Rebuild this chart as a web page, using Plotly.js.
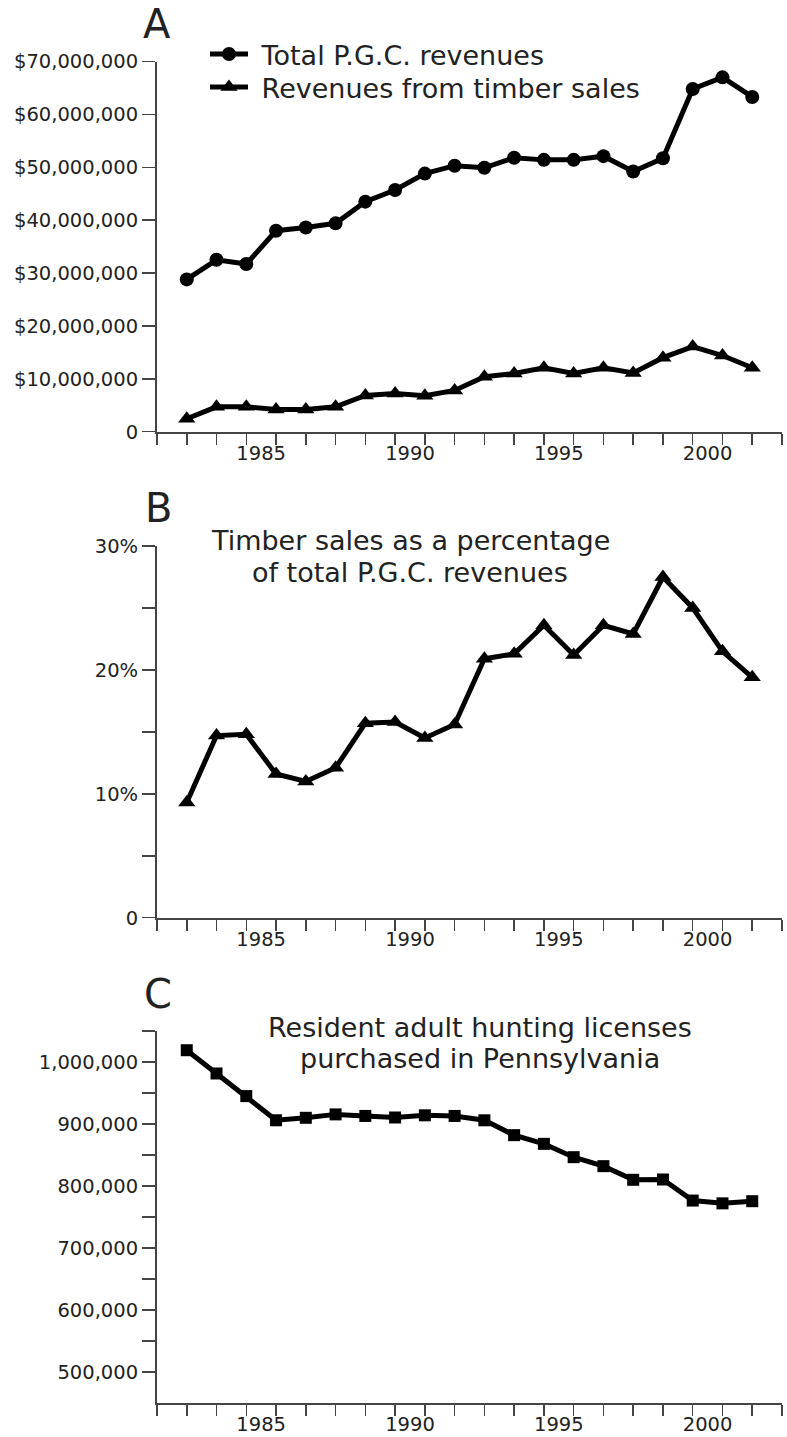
<!DOCTYPE html>
<html>
<head>
<meta charset="utf-8">
<script src="https://cdn.plot.ly/plotly-3.0.1.min.js"></script>
<style>
  html, body { margin: 0; padding: 0; background: #fff; }
  #chart { width: 787px; height: 1437px; }
</style>
</head>
<body>
<div id="chart"></div>
<script>
// ---- data ----
const years = [1983, 1984, 1985, 1986, 1987, 1988, 1989, 1990, 1991, 1992,
               1993, 1994, 1995, 1996, 1997, 1998, 1999, 2000, 2001, 2002];

const totalRevenue = [28800000, 32500000, 31700000, 38000000, 38600000, 39400000,
                      43500000, 45700000, 48800000, 50300000, 49900000, 51800000,
                      51400000, 51400000, 52100000, 49200000, 51700000, 64800000,
                      67000000, 63300000];

const timberRevenue = [2450000, 4700000, 4700000, 4200000, 4200000, 4700000,
                       6850000, 7200000, 6800000, 7800000, 10400000, 11000000,
                       12100000, 11000000, 12100000, 11100000, 14000000, 16100000,
                       14400000, 12100000];

const timberPct = [9.3, 14.7, 14.8, 11.6, 11.0, 12.1, 15.7, 15.8, 14.5, 15.6,
                   20.9, 21.3, 23.6, 21.2, 23.6, 22.9, 27.5, 25.0, 21.5, 19.4];

const licenses = [1019000, 981500, 945000, 906000, 910000, 915500, 913000, 910500,
                  914000, 913000, 906000, 882000, 868000, 846500, 832000, 810000,
                  810500, 776500, 772000, 775500];

const xLabelVals = [1985.5, 1990.5, 1995.5, 2000.5];
const xLabelText = ['1985', '1990', '1995', '2000'];

const yA_vals = [0, 10000000, 20000000, 30000000, 40000000, 50000000, 60000000, 70000000];
const yA_text = ['0', '$10,000,000', '$20,000,000', '$30,000,000', '$40,000,000',
                 '$50,000,000', '$60,000,000', '$70,000,000'];

const yB_vals = [0, 5, 10, 15, 20, 25, 30];
const yB_text = ['0', '', '10%', '', '20%', '', '30%'];

const yC_vals = [500000, 550000, 600000, 650000, 700000, 750000, 800000, 850000,
                 900000, 950000, 1000000, 1050000];
const yC_text = ['500,000', '', '600,000', '', '700,000', '', '800,000', '',
                 '900,000', '', '1,000,000', ''];

// ---- styling ----
const FONT = 'DejaVu Sans, Verdana, sans-serif';
const AXIS_COLOR = '#444';
const TEXT_COLOR = '#222';

function xAxis(anchor) {
  return {
    anchor: anchor,
    domain: [0, 1],
    range: [1982, 2003],
    showgrid: false, zeroline: false,
    showline: true, linecolor: AXIS_COLOR, linewidth: 2,
    tickmode: 'array', tickvals: xLabelVals, ticktext: xLabelText,
    ticks: 'outside', ticklen: 3, tickwidth: 1, tickcolor: 'rgba(0,0,0,0)',
    minor: { ticks: 'outside', tickmode: 'linear', tick0: 1982, dtick: 1,
             ticklen: 11, tickwidth: 1.5, tickcolor: AXIS_COLOR, showgrid: false },
    tickfont: { family: FONT, size: 19.5, color: TEXT_COLOR },
    fixedrange: true
  };
}

function yAxis(anchor, domain, range, vals, text, size) {
  return {
    anchor: anchor,
    domain: domain,
    range: range,
    showgrid: false, zeroline: false,
    showline: true, linecolor: AXIS_COLOR, linewidth: 2,
    tickmode: 'array', tickvals: vals, ticktext: text,
    ticks: 'outside', ticklen: 13, tickwidth: 1.5, tickcolor: AXIS_COLOR,
    tickfont: { family: FONT, size: size, color: TEXT_COLOR },
    fixedrange: true
  };
}

const lineStyle = { color: '#000', width: 5 };

const traces = [
  { x: years, y: totalRevenue, xaxis: 'x', yaxis: 'y', type: 'scatter',
    mode: 'lines+markers', name: '\u00a0Total P.G.C. revenues', legend: 'legend',
    line: lineStyle, marker: { symbol: 'circle', size: 14, color: '#000' } },
  { x: years, y: timberRevenue, xaxis: 'x', yaxis: 'y', type: 'scatter',
    mode: 'lines+markers', name: '\u00a0Revenues from timber sales', legend: 'legend2',
    line: lineStyle, marker: { symbol: 'triangle-up', size: 15, color: '#000' } },
  { x: years, y: timberPct, xaxis: 'x2', yaxis: 'y2', type: 'scatter',
    mode: 'lines+markers', name: 'Timber sales %', showlegend: false,
    line: lineStyle, marker: { symbol: 'triangle-up', size: 15, color: '#000' } },
  { x: years, y: licenses, xaxis: 'x3', yaxis: 'y3', type: 'scatter',
    mode: 'lines+markers', name: 'Licenses', showlegend: false,
    line: lineStyle, marker: { symbol: 'square', size: 12, color: '#000' } }
];

const H = 1437;
function py(px) { return 1 - px / H; }

const ann = (text, x, y, size, xanchor) => ({
  xref: 'paper', yref: 'paper', x: x, y: y, text: text, showarrow: false,
  xanchor: xanchor || 'center', yanchor: 'middle',
  font: { family: FONT, size: size, color: TEXT_COLOR }
});

const legendBase = (topPx) => ({
  x: (205 - 157) / 625, xanchor: 'left',
  y: py(topPx), yanchor: 'top',
  bgcolor: 'rgba(0,0,0,0)',
  font: { family: FONT, size: 27, color: TEXT_COLOR },
  itemwidth: 38
});

const layout = {
  width: 787, height: 1437,
  margin: { l: 157, r: 5, t: 0, b: 0, pad: 0 },
  paper_bgcolor: '#fff', plot_bgcolor: '#fff',
  showlegend: true,
  legend: legendBase(30),
  legend2: legendBase(63),
  xaxis: xAxis('y'),
  xaxis2: xAxis('y2'),
  xaxis3: xAxis('y3'),
  yaxis: yAxis('x', [py(431.7), py(61.5)], [0, 70000000], yA_vals, yA_text, 19.5),
  yaxis2: yAxis('x2', [py(917.7), py(546)], [0, 30], yB_vals, yB_text, 19.5),
  yaxis3: yAxis('x3', [py(1403), py(1031)], [450000, 1050000], yC_vals, yC_text, 19.5),
  annotations: [
    ann('A', 0, py(24), 40),
    ann('B', 0.003, py(508), 40),
    ann('C', 0.002, py(994), 40),
    ann('Timber sales as a percentage', (410 - 157) / 625, py(541), 27),
    ann('of total P.G.C. revenues', (410 - 157) / 625, py(572), 27),
    ann('Resident adult hunting licenses', (480 - 157) / 625, py(1027), 27),
    ann('purchased in Pennsylvania', (480 - 157) / 625, py(1058), 27)
  ]
};

Plotly.newPlot('chart', traces, layout, { displayModeBar: false, staticPlot: true });
</script>
</body>
</html>
